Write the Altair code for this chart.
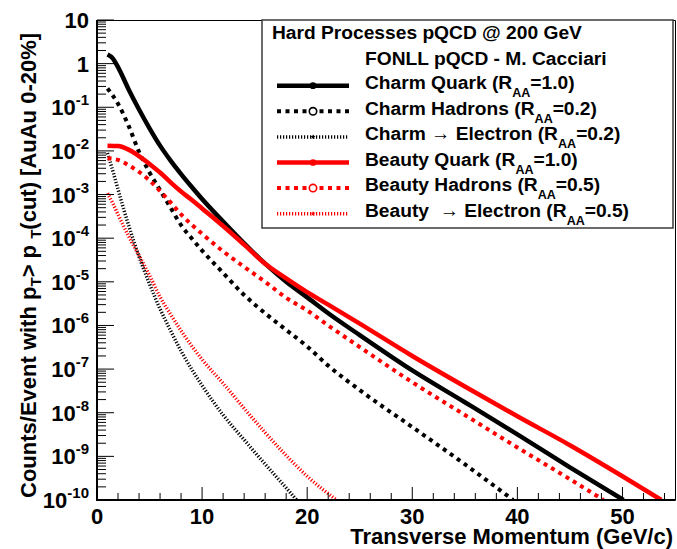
import altair as alt
import pandas as pd

FONT = "Liberation Sans"

# ---------------------------------------------------------------------------
# FONLL curves: integrated yield per event above a pT cut (AuAu 0-20%)
# ---------------------------------------------------------------------------
charm_quark_pt = [1.0, 1.5, 2.0, 3.0, 4.0, 5.0, 6.0, 7.0, 8.0, 9.0, 10.0, 12.0,
                  14.0, 16.0, 18.0, 20.0, 22.0, 25.0, 30.0, 35.0, 40.0, 45.0, 50.1]
charm_quark_val = [1.62, 1.32, 0.83, 0.26, 8.9e-2, 3.3e-2, 1.32e-2, 6.0e-3, 2.95e-3,
                   1.51e-3, 7.9e-4, 2.4e-4, 7.6e-5, 2.6e-5, 1.0e-5, 4.4e-6, 1.9e-6,
                   6.0e-7, 9.3e-8, 1.74e-8, 3.2e-9, 5.6e-10, 1.0e-10]

charm_hadron_pt = [1.0, 2.0, 3.0, 4.0, 5.0, 6.0, 7.0, 8.0, 9.0, 10.0, 12.0, 14.0,
                   16.0, 18.0, 20.0, 22.0, 25.0, 30.0, 35.0, 39.6]
charm_hadron_val = [0.27, 0.12, 3.8e-2, 9.5e-3, 3.2e-3, 1.26e-3, 5.0e-4, 2.0e-4,
                    1.0e-4, 5.2e-5, 1.6e-5, 5.0e-6, 1.9e-6, 7.9e-7, 3.3e-7, 1.2e-7,
                    3.3e-8, 4.7e-9, 6.6e-10, 1.0e-10]

charm_ele_pt = [1.0, 1.5, 2.0, 2.5, 3.0, 3.5, 4.0, 5.0, 6.0, 7.0, 8.0, 9.0, 10.0,
                12.0, 14.0, 16.0, 18.0, 19.0]
charm_ele_val = [8.9e-3, 3.5e-3, 1.32e-3, 5.0e-4, 2.0e-4, 8.5e-5, 3.8e-5, 8.9e-6,
                 2.4e-6, 7.6e-7, 2.6e-7, 1.0e-7, 4.2e-8, 8.9e-9, 2.4e-9, 6.6e-10,
                 1.9e-10, 1.0e-10]

beauty_quark_pt = [1.0, 2.0, 3.0, 4.0, 5.0, 6.0, 7.0, 8.0, 9.0, 10.0, 12.0, 14.0,
                   16.0, 18.0, 20.0, 22.0, 25.0, 30.0, 35.0, 40.0, 45.0, 50.0, 53.7]
beauty_quark_val = [1.32e-2, 1.29e-2, 1.07e-2, 7.6e-3, 5.0e-3, 3.2e-3, 1.9e-3,
                    1.17e-3, 7.6e-4, 4.8e-4, 1.9e-4, 7.1e-5, 2.6e-5, 1.2e-5, 5.8e-6,
                    3.0e-6, 1.1e-6, 2.0e-7, 4.0e-8, 8.3e-9, 1.8e-9, 3.5e-10, 1.0e-10]

beauty_hadron_pt = [1.0, 2.0, 3.0, 4.0, 5.0, 6.0, 7.0, 8.0, 10.0, 12.0, 14.0, 16.0,
                    18.0, 20.0, 22.0, 25.0, 30.0, 35.0, 40.0, 45.0, 48.2]
beauty_hadron_val = [6.8e-3, 6.2e-3, 4.7e-3, 3.3e-3, 2.1e-3, 1.2e-3, 6.6e-4, 3.5e-4,
                     1.26e-4, 5.0e-5, 2.2e-5, 1.0e-5, 4.3e-6, 2.2e-6, 1.0e-6, 3.2e-7,
                     5.0e-8, 8.9e-9, 1.6e-9, 3.0e-10, 1.0e-10]

beauty_ele_pt = [1.0, 1.5, 2.0, 3.0, 4.0, 5.0, 6.0, 7.0, 8.0, 10.0, 12.0, 14.0,
                 16.0, 18.0, 20.0, 22.8]
beauty_ele_val = [1.07e-3, 6.3e-4, 3.5e-4, 1.12e-4, 4.0e-5, 1.4e-5, 4.5e-6, 1.8e-6,
                  7.6e-7, 1.66e-7, 4.7e-8, 1.26e-8, 3.5e-9, 1.05e-9, 3.5e-10, 1.0e-10]

# legend entries (label, R_AA)
legend_names = ["Charm Quark", "Charm Hadrons", "Charm \u2192 Electron",
                "Beauty Quark", "Beauty Hadrons", "Beauty\u00a0 \u2192 Electron"]
legend_raa = ["1.0", "0.2", "0.2", "1.0", "0.5", "0.5"]
legend_title = "Hard Processes pQCD @ 200 GeV"
legend_subtitle = "FONLL pQCD - M. Cacciari"

x_tick_labels = [0, 10, 20, 30, 40, 50]
y_decades = list(range(-10, 2))

# ---------------------------------------------------------------------------
W, H = 578, 480          # plot area
XMAX = 55.0
xscale = alt.Scale(domain=[0, XMAX], nice=False, zero=False)
yscale = alt.Scale(type="log", domain=[1e-10, 10], nice=False)

# Helvetica/Arial bold advance widths (1/1000 em), used to chain text pieces
ADV = {" ": 278, "\u00a0": 278, "%": 889, "(": 333, ")": 333, "-": 333, ".": 278,
       "/": 278, "=": 584, ">": 584, "@": 975, "[": 333, "]": 333, "\u2192": 1000,
       "A": 722, "B": 722, "C": 722, "D": 722, "E": 667, "F": 611, "G": 778,
       "H": 722, "L": 611, "M": 833, "N": 722, "O": 778, "P": 667, "Q": 778,
       "R": 722, "T": 611, "V": 667, "a": 556, "c": 556, "d": 611, "e": 556,
       "h": 611, "i": 278, "k": 556, "l": 278, "m": 889, "n": 611, "o": 611,
       "p": 611, "r": 389, "s": 556, "t": 333, "u": 611, "v": 556, "w": 778,
       "y": 556}


def tw(s, size):
    return sum(ADV.get(c, 556) for c in s) * size / 1000.0


ONE = pd.DataFrame({"k": [0]})


def label(s, x, y, size, angle=0, align="left", color="black", baseline="alphabetic"):
    return alt.Chart(ONE).mark_text(
        text=s, font=FONT, fontSize=size, fontWeight="bold", color=color,
        align=align, baseline=baseline, angle=angle,
    ).encode(x=alt.value(x), y=alt.value(y))


def curve(pt, val, color, width, dash=None):
    df = pd.DataFrame({"pt": pt, "val": val})
    kw = dict(color=color, strokeWidth=width, clip=True, interpolate="monotone",
              strokeCap="butt")
    if dash:
        kw["strokeDash"] = dash
    return alt.Chart(df).mark_line(**kw).encode(
        x=alt.X("pt:Q", scale=xscale, axis=None),
        y=alt.Y("val:Q", scale=yscale, axis=None),
    )


RED = "#ff0000"
DOT = [4, 4.5]
FINE = [1.2, 1.8]

layers = []
layers.append(curve(beauty_ele_pt, beauty_ele_val, RED, 3.5, FINE))
layers.append(curve(charm_ele_pt, charm_ele_val, "black", 3.5, FINE))
layers.append(curve(charm_hadron_pt, charm_hadron_val, "black", 4, DOT))
layers.append(curve(beauty_hadron_pt, beauty_hadron_val, RED, 4, DOT))
layers.append(curve(charm_quark_pt, charm_quark_val, "black", 4.5))
layers.append(curve(beauty_quark_pt, beauty_quark_val, RED, 4.5))

# ---- axis lines and inner tick marks ---------------------------------------
layers.append(alt.Chart(ONE).mark_rule(color="black", strokeWidth=2).encode(
    x=alt.value(0), y=alt.value(0), y2=alt.value(H + 1)))
layers.append(alt.Chart(ONE).mark_rule(color="black", strokeWidth=2).encode(
    x=alt.value(-1), x2=alt.value(W), y=alt.value(H)))

y_major = [10.0 ** k for k in y_decades]
y_minor = [m * 10.0 ** k for k in range(-10, 1) for m in range(2, 10)]
x_major = list(range(0, 51, 10))
x_minor = [v for v in range(0, 55, 2) if v % 10]

layers.append(alt.Chart(pd.DataFrame({"val": y_major})).mark_rule(color="black", strokeWidth=1).encode(
    y=alt.Y("val:Q", scale=yscale, axis=None), x=alt.value(0), x2=alt.value(17)))
layers.append(alt.Chart(pd.DataFrame({"val": y_minor})).mark_rule(color="black", strokeWidth=1).encode(
    y=alt.Y("val:Q", scale=yscale, axis=None), x=alt.value(0), x2=alt.value(9)))
layers.append(alt.Chart(pd.DataFrame({"pt": x_major})).mark_rule(color="black", strokeWidth=1).encode(
    x=alt.X("pt:Q", scale=xscale, axis=None), y=alt.value(H), y2=alt.value(H - 13)))
layers.append(alt.Chart(pd.DataFrame({"pt": x_minor})).mark_rule(color="black", strokeWidth=1).encode(
    x=alt.X("pt:Q", scale=xscale, axis=None), y=alt.value(H), y2=alt.value(H - 7)))

# ---- x tick labels ---------------------------------------------------------
layers.append(alt.Chart(pd.DataFrame({"pt": x_tick_labels,
                                      "lab": [str(v) for v in x_tick_labels]})).mark_text(
    font=FONT, fontSize=22, fontWeight="bold", align="center", baseline="alphabetic",
    color="black").encode(
    x=alt.X("pt:Q", scale=xscale, axis=None), y=alt.value(H + 24), text="lab:N"))

# ---- y tick labels: 10, 1 and 10^k with a raised exponent ------------------
BASE, EXP = 22, 15
LAB_R = -8          # right edge of labels, relative to the axis
for group in ([1, 0], list(range(-9, 0)), [-10]):
    exps = [str(k) for k in group if k not in (0, 1)]
    bases = ["10" if k != 0 else "1" for k in group]
    df = pd.DataFrame({"val": [10.0 ** k for k in group], "base": bases,
                       "exp": [str(k) if k not in (0, 1) else "" for k in group]})
    ew = tw(exps[0], EXP) if exps else 0.0
    layers.append(alt.Chart(df).mark_text(
        font=FONT, fontSize=BASE, fontWeight="bold", align="right",
        baseline="alphabetic", dy=8, color="black").encode(
        y=alt.Y("val:Q", scale=yscale, axis=None), x=alt.value(LAB_R - ew),
        text="base:N"))
    if exps:
        layers.append(alt.Chart(df).mark_text(
            font=FONT, fontSize=EXP, fontWeight="bold", align="right",
            baseline="alphabetic", dy=-2, color="black").encode(
            y=alt.Y("val:Q", scale=yscale, axis=None), x=alt.value(LAB_R),
            text="exp:N"))

# ---- axis titles -----------------------------------------------------------
layers.append(label("Transverse Momentum (GeV/c)", 576, 524, 22, align="right"))

TS, TSUB = 22, 15
ytitle = [("Counts/Event with p", False), ("T", True), ("\u00a0> p", False), ("T", True),
          ("(cut) [AuAu 0-20%]", False)]
bx, by = 36 - 97, 498 - 20
off = 0.0
for txt, sub in ytitle:
    size = TSUB if sub else TS
    layers.append(label(txt, bx + (5 if sub else 0), by - off, size, angle=270))
    off += tw(txt, size)

# ---- legend ---------------------------------------------------------------
BX0, BX1, BY0, BY1 = 262 - 97, 673 - 97, 0, 228 - 20
layers.append(alt.Chart(ONE).mark_rect(fill="white", stroke="#3a3a3a", strokeWidth=1.5).encode(
    x=alt.value(BX0), x2=alt.value(BX1), y=alt.value(BY0), y2=alt.value(BY1)))

LS = 19.2
layers.append(label(legend_title, 272 - 97, 39 - 20, LS))
layers.append(label(legend_subtitle, 365 - 97, 65 - 20, LS))

styles = [("black", 4.5, None, "filled"), ("black", 4, DOT, "open"), ("black", 3.5, FINE, "star"),
          (RED, 4.5, None, "filled"), (RED, 4, DOT, "open"), (RED, 3.5, FINE, "star")]
STAR = ("M0,-1L0.235,-0.324L0.951,-0.309L0.38,0.124L0.588,0.809L0,0.4L-0.588,0.809"
        "L-0.38,0.124L-0.951,-0.309L-0.235,-0.324Z")
ROW0_TXT, ROW0_LINE, DY = 89 - 20, 85.7 - 20, 25.6
TX = 365 - 97
SX0, SX1, MX = 277 - 97, 349 - 97, 313 - 97
for i, (name, raa) in enumerate(zip(legend_names, legend_raa)):
    color, width, dash, mk = styles[i]
    ly = ROW0_LINE + DY * i
    rk = dict(color=color, strokeWidth=width, strokeCap="butt")
    if dash:
        rk["strokeDash"] = dash
    layers.append(alt.Chart(ONE).mark_rule(**rk).encode(
        x=alt.value(SX0), x2=alt.value(SX1), y=alt.value(ly)))
    if mk == "filled":
        layers.append(alt.Chart(ONE).mark_point(shape="circle", filled=True, size=45,
                                                color=color, opacity=1).encode(
            x=alt.value(MX), y=alt.value(ly)))
    elif mk == "open":
        layers.append(alt.Chart(ONE).mark_point(shape="circle", filled=True, size=55,
                                                fill="white", stroke=color, strokeWidth=1.6,
                                                opacity=1).encode(
            x=alt.value(MX), y=alt.value(ly)))
    else:
        layers.append(alt.Chart(ONE).mark_point(shape=STAR, filled=True, size=30,
                                                color=color, opacity=1).encode(
            x=alt.value(MX), y=alt.value(ly)))
    ty = ROW0_TXT + DY * i
    p1 = name + " (R"
    layers.append(label(p1, TX, ty, LS))
    sx = TX + tw(p1, LS)
    layers.append(label("AA", sx, ty + 8, 12.5))
    layers.append(label("=" + raa + ")", sx + tw("AA", 12.5), ty, LS))

chart = alt.layer(*layers).properties(
    width=W, height=H, autosize="none",
    padding={"left": 97, "top": 20, "right": 2, "bottom": 49},
    background="white",
).configure_view(stroke="black", strokeWidth=1)

chart.save("out.html", embed_options={"renderer": "svg", "actions": False})
